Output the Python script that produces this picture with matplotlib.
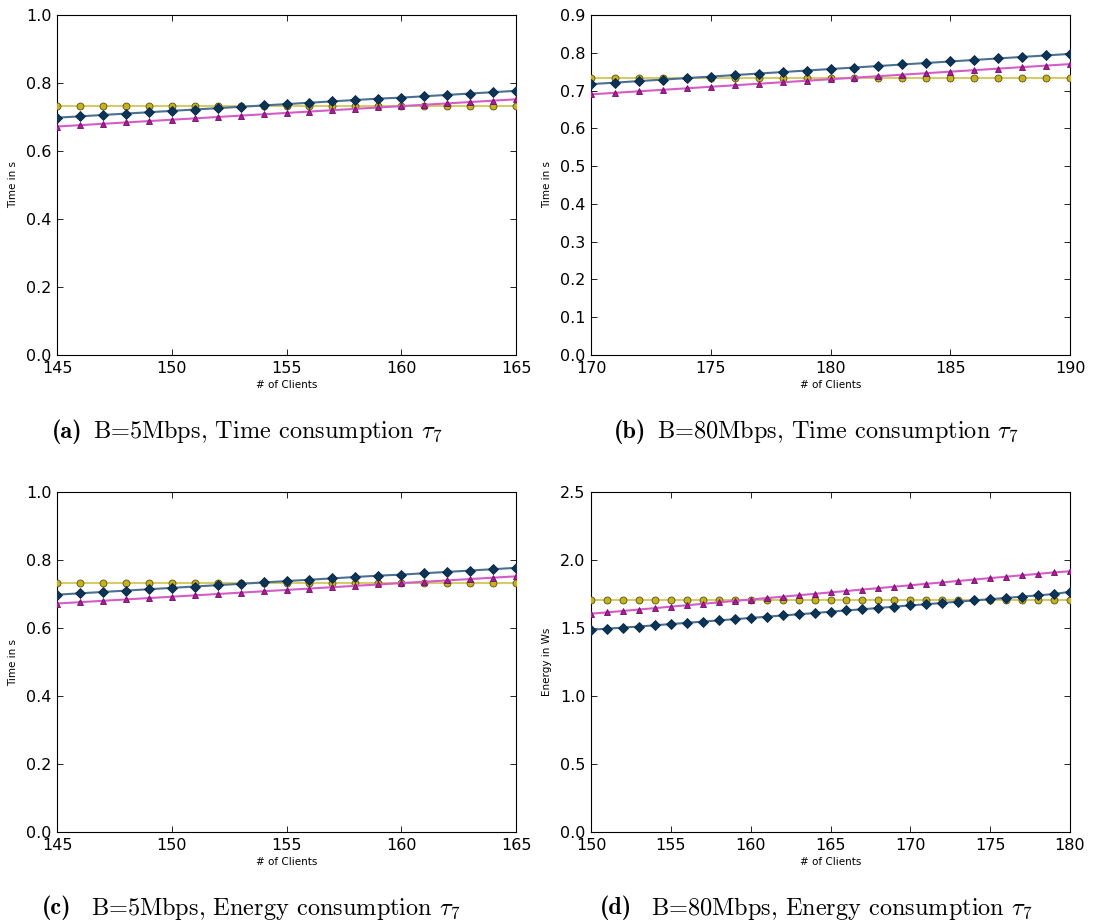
import matplotlib
matplotlib.use("Agg")
import matplotlib.pyplot as plt
import numpy as np

# ---- data ----
clients_a = list(range(145, 166))
a_yellow = [0.732] * 21
a_navy = [0.698, 0.702, 0.706, 0.710, 0.714, 0.718, 0.722, 0.726, 0.730, 0.734, 0.738,
          0.742, 0.746, 0.750, 0.754, 0.757, 0.761, 0.765, 0.769, 0.773, 0.777]
a_magenta = [0.672, 0.676, 0.680, 0.684, 0.688, 0.692, 0.696, 0.700, 0.704, 0.708, 0.712,
             0.716, 0.720, 0.724, 0.728, 0.732, 0.736, 0.740, 0.744, 0.748, 0.752]

clients_b = list(range(170, 191))
b_yellow = [0.732] * 21
b_navy = [0.717, 0.721, 0.725, 0.729, 0.733, 0.737, 0.741, 0.745, 0.749, 0.753, 0.757,
          0.761, 0.765, 0.769, 0.773, 0.777, 0.781, 0.785, 0.789, 0.793, 0.797]
b_magenta = [0.690, 0.694, 0.698, 0.702, 0.706, 0.710, 0.714, 0.718, 0.722, 0.726, 0.730,
             0.734, 0.738, 0.742, 0.746, 0.750, 0.754, 0.758, 0.762, 0.766, 0.770]

clients_c = list(range(145, 166))
c_yellow = [0.732] * 21
c_navy = [0.698, 0.702, 0.706, 0.710, 0.714, 0.718, 0.722, 0.726, 0.730, 0.734, 0.738,
          0.742, 0.746, 0.750, 0.754, 0.757, 0.761, 0.765, 0.769, 0.773, 0.777]
c_magenta = [0.672, 0.676, 0.680, 0.684, 0.688, 0.692, 0.696, 0.700, 0.704, 0.708, 0.712,
             0.716, 0.720, 0.724, 0.728, 0.732, 0.736, 0.740, 0.744, 0.748, 0.752]

clients_d = list(range(150, 181))
d_yellow = [1.703] * 31
d_navy = [1.487, 1.495, 1.503, 1.511, 1.520, 1.529, 1.538, 1.547, 1.556, 1.565, 1.574,
          1.583, 1.592, 1.601, 1.610, 1.620, 1.629, 1.638, 1.647, 1.657, 1.666,
          1.675, 1.684, 1.694, 1.703, 1.712, 1.721, 1.731, 1.740, 1.750, 1.766]
d_magenta = [1.605, 1.615, 1.625, 1.636, 1.646, 1.657, 1.667, 1.678, 1.688, 1.699, 1.709,
             1.720, 1.730, 1.741, 1.751, 1.762, 1.772, 1.783, 1.793, 1.804, 1.814,
             1.825, 1.835, 1.846, 1.856, 1.867, 1.877, 1.888, 1.898, 1.909, 1.917]

captions = [("(a)", "B=5Mbps, Time consumption"),
            ("(b)", "B=80Mbps, Time consumption"),
            ("(c)", "B=5Mbps, Energy consumption"),
            ("(d)", "B=80Mbps, Energy consumption")]
ylabels = ["Time in s", "Time in s", "Time in s", "Energy in Ws"]

panels = [
    (clients_a, a_yellow, a_navy, a_magenta, (145, 165), (0, 1.0), np.arange(0, 1.01, 0.2), range(145, 166, 5)),
    (clients_b, b_yellow, b_navy, b_magenta, (170, 190), (0, 0.9), np.arange(0, 0.91, 0.1), range(170, 191, 5)),
    (clients_c, c_yellow, c_navy, c_magenta, (145, 165), (0, 1.0), np.arange(0, 1.01, 0.2), range(145, 166, 5)),
    (clients_d, d_yellow, d_navy, d_magenta, (150, 180), (0, 2.5), np.arange(0, 2.51, 0.5), range(150, 181, 5)),
]

W, H = 1096, 924
fig = plt.figure(figsize=(W / 100, H / 100), dpi=100)

boxes = [(57, 15, 516, 355), (591, 15, 1070, 355), (57, 492, 516, 832), (591, 492, 1070, 832)]
cap_y = [432, 432, 908, 908]
cap_x = [247, 816, 251, 816]
cap_gap = [11, 11, 19, 19]

for i, (x, yy, yn, ym, xl, yl, yt, xt) in enumerate(panels):
    l, t, r, b = boxes[i]
    ax = fig.add_axes([l / W, 1 - b / H, (r - l) / W, (b - t) / H])
    ax.plot(x, yy, color="#d6cb6a", lw=1.5, marker="o", ms=5, mfc="#c4b21e", mec="#5a5010", mew=0.6, zorder=3)
    ax.plot(x, yn, color="#4a7092", lw=1.5, marker="D", ms=5, mfc="#0b3558", mec="#0b2540", mew=0.6, zorder=4)
    ax.plot(x, ym, color="#d45cc6", lw=1.5, marker="^", ms=5, mfc="#b0189c", mec="#6a1060", mew=0.6, zorder=4)
    ax.set_xlim(*xl)
    ax.set_ylim(*yl)
    ax.set_yticks(yt)
    ax.set_xticks(list(xt))
    ax.set_yticklabels(["%.1f" % v for v in yt])
    ax.tick_params(direction="in", top=True, right=True, labelsize=11.5, length=4, width=0.6, pad=4)
    for s in ax.spines.values():
        s.set_linewidth(0.8)
    ax.set_xlabel("# of Clients", fontsize=7.5, labelpad=3)
    ax.set_ylabel(ylabels[i], fontsize=7.5, labelpad=6)

renderer = fig.canvas.get_renderer()
for i, (lab, txt) in enumerate(captions):
    yfig = 1 - cap_y[i] / H
    t1 = fig.text(0, yfig, lab, ha="left", va="center", fontsize=17.5, family="cmb10")
    t2 = fig.text(0, yfig, txt + r" $\tau_7$", ha="left", va="center", fontsize=17.5,
                  family="cmr10", math_fontfamily="cm")
    w1 = t1.get_window_extent(renderer).width
    w2 = t2.get_window_extent(renderer).width
    total = w1 + cap_gap[i] + w2
    x0 = cap_x[i] - total / 2
    t1.set_x(x0 / W)
    t2.set_x((x0 + w1 + cap_gap[i]) / W)

fig.savefig("out.png", dpi=100)
